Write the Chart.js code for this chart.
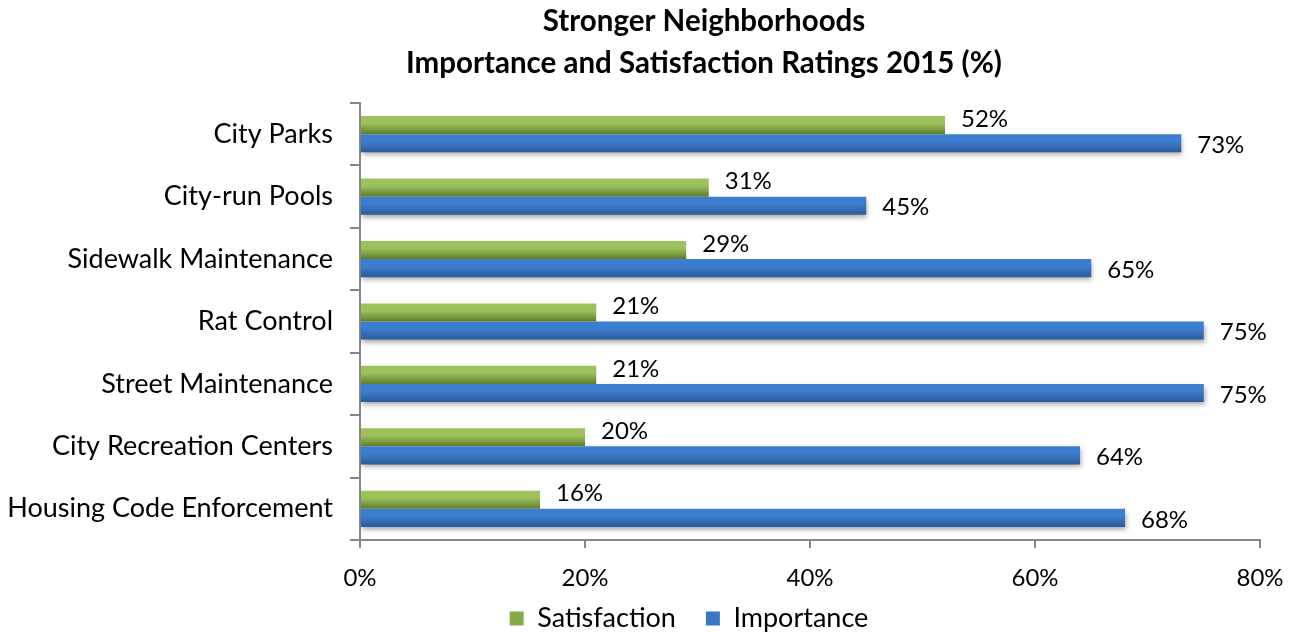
<!DOCTYPE html>
<html>
<head>
<meta charset="utf-8">
<script src="https://cdn.jsdelivr.net/npm/chart.js@4.4.1/dist/chart.umd.min.js"></script>
<style>
  html, body { margin: 0; padding: 0; background: #ffffff; }
  #wrap { width: 1296px; height: 632px; }
</style>
</head>
<body>
<div id="wrap"><canvas id="chart" width="1296" height="632"></canvas></div>
<script>
// Survey services, top to bottom
const categories = [
  'City Parks',
  'City-run Pools',
  'Sidewalk Maintenance',
  'Rat Control',
  'Street Maintenance',
  'City Recreation Centers',
  'Housing Code Enforcement'
];
// Share of respondents (%)
const satisfaction = [52, 31, 29, 21, 21, 20, 16];
const importance   = [73, 45, 65, 75, 75, 64, 68];
// X axis tick values
const xTicks = [0, 20, 40, 60, 80];
// Two-line heading
const titleLines = ['Stronger Neighborhoods', 'Importance and Satisfaction Ratings 2015 (%)'];

const FONT = 'Lato, "Open Sans", sans-serif';
const CAT_PCT = 0.58;

// Vertical shading for each bar, computed from the category scale
function barGradient(light, dark, half) {
  return function (ctx) {
    const chart = ctx.chart;
    const y = chart.scales && chart.scales.y;
    if (!y || !chart.chartArea || ctx.dataIndex === undefined) return dark;
    const center = y.getPixelForValue(ctx.dataIndex);
    const band = Math.abs(y.getPixelForValue(1) - y.getPixelForValue(0));
    const h = band * CAT_PCT / 2;
    const top = half === 0 ? center - h : center;
    const g = chart.ctx.createLinearGradient(0, top, 0, top + h);
    g.addColorStop(0, light);
    g.addColorStop(0.4, light);
    g.addColorStop(1, dark);
    return g;
  };
}

// Soft shadow under the Importance bars
const barShadow = {
  id: 'barShadow',
  beforeDatasetDraw(chart, args) {
    if (args.index !== 1) return;
    const c = chart.ctx;
    c.save();
    c.shadowColor = 'rgba(0,0,0,0.35)';
    c.shadowBlur = 5;
    c.shadowOffsetY = 3;
    c.shadowOffsetX = 1;
  },
  afterDatasetDraw(chart, args) {
    if (args.index !== 1) return;
    chart.ctx.restore();
  }
};

// Percent labels just past the end of each bar
const valueLabels = {
  id: 'valueLabels',
  afterDatasetsDraw(chart) {
    const c = chart.ctx;
    c.save();
    c.font = '24px ' + FONT;
    c.fillStyle = '#000000';
    c.textAlign = 'left';
    c.textBaseline = 'middle';
    chart.data.datasets.forEach((ds, di) => {
      const meta = chart.getDatasetMeta(di);
      meta.data.forEach((bar, i) => {
        const dy = di === 0 ? -6 : 2;
        c.fillText(ds.data[i] + '%', bar.x + 16, bar.y + dy);
      });
    });
    c.restore();
  }
};

// Heading centred a little right of the canvas middle
const heading = {
  id: 'heading',
  afterDraw(chart) {
    const c = chart.ctx;
    c.save();
    c.font = 'bold 29.5px ' + FONT;
    c.fillStyle = '#000000';
    c.textAlign = 'center';
    c.textBaseline = 'middle';
    c.fillText(titleLines[0], 704, 21);
    c.fillText(titleLines[1], 704, 63);
    c.restore();
  }
};

// Nudge the legend box so it sits under the plot, tight to the bottom edge
const legendPlacement = {
  id: 'legendPlacement',
  afterLayout(chart) {
    const lg = chart.legend;
    if (!lg) return;
    const dx = 59, dy = -15;
    lg.left += dx; lg.right += dx;
    lg.top += dy; lg.bottom += dy;
  }
};

new Chart(document.getElementById('chart'), {
  type: 'bar',
  data: {
    labels: categories,
    datasets: [
      {
        label: 'Satisfaction',
        data: satisfaction,
        backgroundColor: barGradient('#9dc25b', '#5f7b2d', 0),
        categoryPercentage: CAT_PCT,
        barPercentage: 1.0,
        borderWidth: 0
      },
      {
        label: 'Importance',
        data: importance,
        backgroundColor: barGradient('#3d7dd0', '#2c5b98', 1),
        categoryPercentage: CAT_PCT,
        barPercentage: 1.0,
        borderWidth: 0
      }
    ]
  },
  options: {
    indexAxis: 'y',
    responsive: false,
    animation: false,
    layout: { padding: { left: 0, right: 36, top: 103, bottom: -25 } },
    plugins: {
      title: { display: false },
      legend: {
        position: 'bottom',
        labels: {
          color: '#000000',
          font: { family: FONT, size: 27 },
          boxWidth: 14,
          boxHeight: 14,
          padding: 30,
          generateLabels(chart) {
            const cols = ['#86a94a', '#3a76c4'];
            return chart.data.datasets.map((ds, i) => ({
              text: ds.label,
              fillStyle: cols[i],
              strokeStyle: cols[i],
              lineWidth: 0,
              datasetIndex: i
            }));
          }
        }
      },
      tooltip: { enabled: false }
    },
    scales: {
      x: {
        min: 0,
        max: 80,
        afterBuildTicks(scale) {
          scale.ticks = xTicks.map(v => ({ value: v }));
        },
        afterFit(scale) {
          scale.height = 50;
          scale.paddingRight = 0;
        },
        ticks: {
          color: '#000000',
          font: { family: FONT, size: 24 },
          padding: 16,
          callback: v => v + '%'
        },
        grid: {
          drawOnChartArea: false,
          drawTicks: true,
          tickLength: 8,
          color: '#868686',
          lineWidth: 2
        },
        border: { color: '#868686', width: 2 }
      },
      y: {
        afterFit(scale) { scale.width = 360; },
        ticks: {
          color: '#000000',
          font: { family: FONT, size: 27 },
          padding: 17
        },
        grid: {
          offset: true,
          drawOnChartArea: false,
          drawTicks: true,
          tickLength: 10,
          color: '#868686',
          lineWidth: 2
        },
        border: { color: '#868686', width: 2 }
      }
    }
  },
  plugins: [barShadow, valueLabels, heading, legendPlacement]
});
</script>
</body>
</html>
